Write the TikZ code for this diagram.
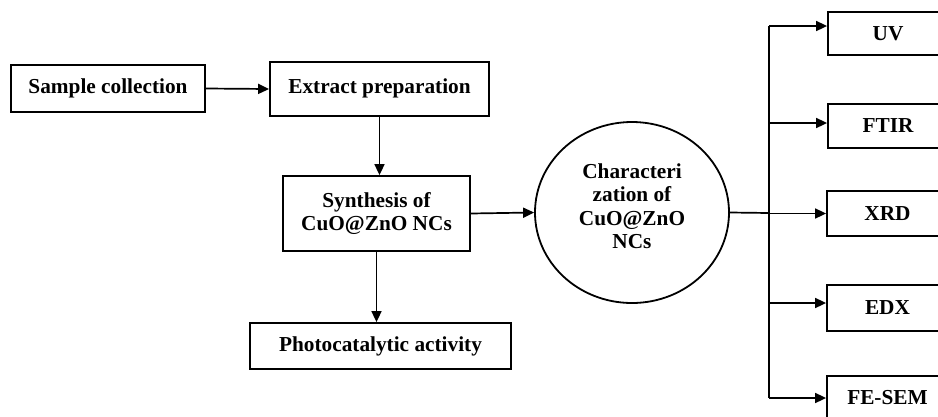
\documentclass[tikz,border=0pt]{standalone}
\usepackage{fontspec}
\setmainfont{Liberation Serif}
\usetikzlibrary{shapes.geometric,arrows.meta}
\begin{document}
\begin{tikzpicture}[x=1pt,y=-1pt,
  font=\fontsize{21.3}{24}\selectfont\bfseries,
  box/.style={draw,line width=1.8pt,inner sep=0pt,align=center},
  arr/.style={line width=1.7pt,-{Triangle[length=11pt,width=10pt]}},
  ln/.style={line width=1.7pt}]
\clip (0,0) rectangle (938,416);
\fill[white] (0,0) rectangle (938,416);
\node[box,minimum width=194pt,minimum height=47pt] (sc) at (108,88.5) {Sample collection};
\node[box,minimum width=219pt,minimum height=54pt] (ep) at (379.5,89) {\raisebox{6pt}{Extract preparation}};
\node[box,minimum width=187pt,minimum height=75pt] (syn) at (376.5,213.5) {\raisebox{3pt}{\shortstack{Synthesis of\\[2pt]CuO@ZnO NCs}}};
\node[box,minimum width=261pt,minimum height=46pt] (pa) at (380.5,346) {Photocatalytic activity};
\node[box,ellipse,minimum width=194pt,minimum height=181pt] (ch) at (632,212.5) {};
\node[align=center,font=\fontsize{21.3}{23.5}\selectfont\bfseries] (cht) at (632,206) {Characteri\\zation of\\CuO@ZnO\\NCs};
\node[box,minimum width=120pt,minimum height=43pt] (uv) at (888,33.5) {UV};
\node[box,minimum width=120pt,minimum height=44pt] (ft) at (888,126) {FTIR};
\node[box,minimum width=121pt,minimum height=45pt] (xr) at (887.5,213.5) {XRD};
\node[box,minimum width=121pt,minimum height=46pt] (ed) at (887.5,308) {EDX};
\node[box,minimum width=121pt,minimum height=44pt] (fs) at (887.5,398) {FE-SEM};
\coordinate (bus) at (769,213);
\draw[arr] (sc.east) -- (ep.west);
\draw[arr] (ep.south) -- (ep.south |- syn.north);
\draw[arr] (syn.south) -- (syn.south |- pa.north);
\draw[arr] (syn.east) -- (ch.west);
\draw[ln] (ch.east) -- (bus);
\coordinate (uvin) at ([yshift=7.5pt]uv.west);
\coordinate (ftin) at ([yshift=3pt]ft.west);
\coordinate (edin) at ([yshift=5pt]ed.west);
\draw[ln] (bus |- uvin) -- (bus |- fs.west);
\draw[arr] (bus |- uvin) -- (uvin);
\draw[arr] (bus |- ftin) -- (ftin);
\draw[arr] (bus |- xr.west) -- (xr.west);
\draw[arr] (bus |- edin) -- (edin);
\draw[arr] (bus |- fs.west) -- (fs.west);
\end{tikzpicture}
\end{document}
